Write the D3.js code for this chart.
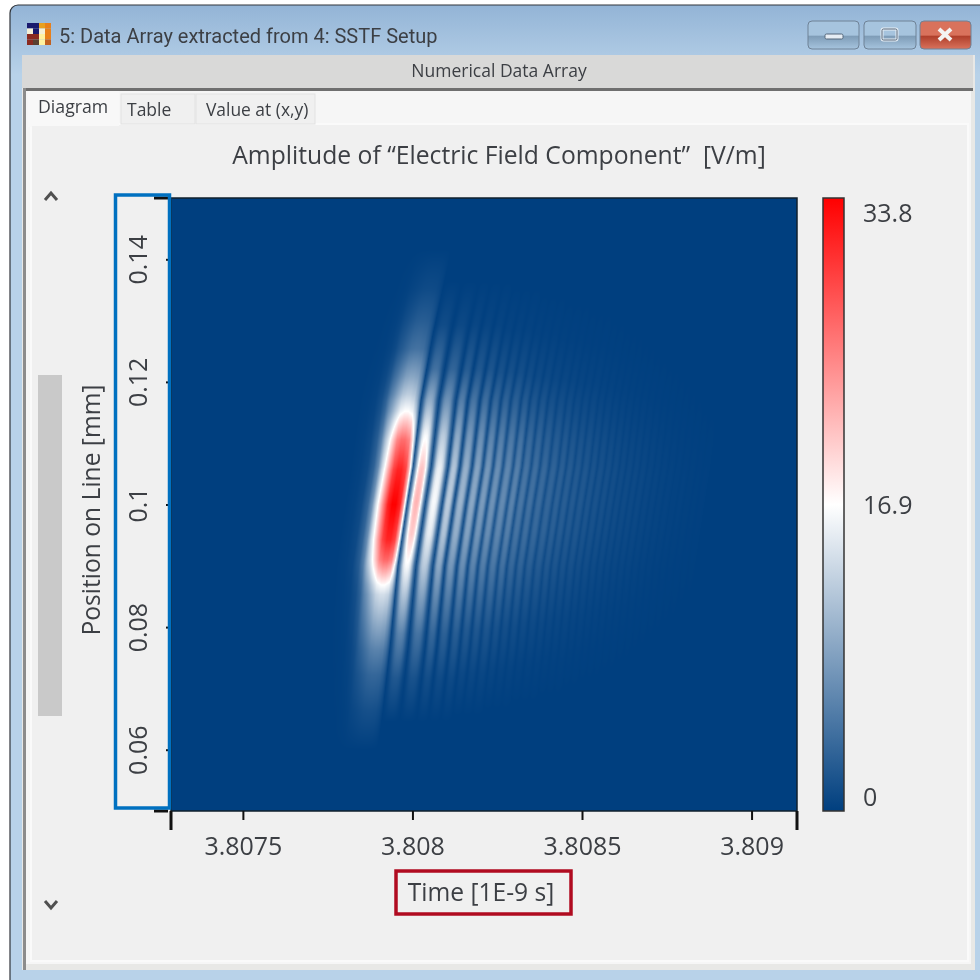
<!DOCTYPE html>
<html>
<head>
<meta charset="utf-8">
<style>
    html, body { margin: 0; padding: 0; background: #fff; }
    svg { display: block; filter: blur(0.5px); }
    text { font-family: "Open Sans", "Noto Sans", sans-serif; fill: #3c3f44; }
</style>
<script src="https://cdn.jsdelivr.net/npm/d3@7/dist/d3.min.js"></script>
</head>
<body>
<script>
    // axis ticks and domains
    var timeTicks = [3.8075, 3.808, 3.8085, 3.809]
    var timeDomain = [3.807288, 3.809134]
    var positionTicks = [0.06, 0.08, 0.1, 0.12, 0.14]
    var positionDomain = [0.05, 0.15]
    var colorTicks = [0, 16.9, 33.8]
    var colorStops = ['#003f7f', '#ffffff', '#ff0000']

    // dark fringes at position 0.1 mm, time in 1E-9 s
    var fringeTimes = [
        3.807801, 3.807984, 3.808037, 3.808087, 3.808122, 3.808158, 3.808190, 3.808220, 3.808249,
        3.808279, 3.808305, 3.808332, 3.808358, 3.808385, 3.808412, 3.808435, 3.808459, 3.808482,
        3.808506, 3.808527, 3.808550, 3.808571, 3.808592, 3.808612, 3.808633, 3.808653, 3.808674,
        3.808695, 3.808715, 3.808736, 3.808757, 3.808777, 3.808798, 3.808819, 3.808839, 3.808860
    ]

    // how far the fringes lean: time shift at each position
    var leanPositions = [0.05, 0.0665, 0.0768, 0.09, 0.1, 0.1062, 0.117, 0.128, 0.14, 0.15]
    var leanShifts = [-0.000112, -0.000071, -0.00005, -0.000027, 0, 0.000018, 0.000041, 0.000077, 0.000124, 0.000171]

    // main lobe: amplitude along its ridge and its shape across
    var mainPositions = [0.06, 0.0665, 0.0722, 0.0763, 0.0804, 0.0853, 0.0869, 0.0885, 0.091, 0.0943, 0.1, 0.1057, 0.1106, 0.1136, 0.1152, 0.118, 0.1209, 0.1254, 0.1303, 0.1352, 0.1417]
    var mainAmplitudes = [0, 1.5, 3.5, 6, 9.5, 14, 17, 21, 27, 31.5, 33.8, 31.5, 26.5, 20.5, 16.9, 12.5, 9, 4.5, 2.5, 1, 0]
    var mainAcrossAt = [0, 0.16, 0.27, 0.37, 0.44, 0.5, 0.55, 0.61, 0.69, 0.76, 0.82, 0.89, 0.94, 0.97, 1]
    var mainAcross = [0, 0.01, 0.03, 0.1, 0.22, 0.42, 0.55, 0.72, 0.93, 1, 1, 0.93, 0.7, 0.45, 0.08]

    // side lobes: peak amplitude and half height (mm) of each one, left to right
    var sideAmplitudes = [
        22, 16.5, 12.5, 10.5, 9.3, 8.2, 7.4, 6.7, 6, 4.9, 4.4, 3.9, 3.4, 3, 2.7, 2.4, 2.2,
        1.9, 1.7, 1.5, 1.3, 1.1, 1, 0.9, 0.8, 0.65, 0.55, 0.45, 0.38, 0.3, 0.25, 0.2, 0.15, 0.12
    ]
    var sideSpans = [
        0.036, 0.036, 0.036, 0.036, 0.036, 0.035, 0.035, 0.035, 0.034, 0.034, 0.034, 0.033, 0.033, 0.033, 0.032, 0.032, 0.032,
        0.031, 0.031, 0.03, 0.03, 0.03, 0.029, 0.029, 0.028, 0.028, 0.027, 0.027, 0.026, 0.026, 0.025, 0.025, 0.024, 0.024
    ]
    var sideCentre = 0.1005
    var sideAlongAt = [-1, -0.8, -0.6, -0.45, -0.3, -0.15, 0, 0.15, 0.3, 0.45, 0.6, 0.8, 1]
    var sideAlong = [0, 0.1, 0.28, 0.5, 0.74, 0.93, 1, 0.95, 0.75, 0.46, 0.2, 0.05, 0]
    var sideAcrossAt = [0, 0.1, 0.2, 0.3, 0.4, 0.5, 0.6, 0.7, 0.8, 0.9, 1]
    var sideAcross = [0.03, 0.24, 0.56, 0.84, 0.97, 1, 0.97, 0.84, 0.56, 0.24, 0.03]

    // how dark the gaps between side lobes stay, as a share of the lobe peak
    var floorTimes = [3.808037, 3.808140, 3.808250, 3.808430, 3.808670, 3.808860]
    var floorShares = [0.06, 0.12, 0.3, 0.45, 0.55, 0.6]

    var iconColors = [
        ['#1a1a6e', '#1a1a6e', '#e8a020', '#e8801a'],
        ['#f4f0d8', '#1a1a6e', '#f4f0d8', '#e8801a'],
        ['#8a2a20', '#8a2a20', '#fff2a0', '#e8801a'],
        ['#8a2a20', '#5a4030', '#fff2a0', '#c06020']
    ]

    var plot = {left: 171, right: 797, top: 198, bottom: 811}
    var bar = {left: 823, right: 844, top: 198, bottom: 811}

    var x = d3.scaleLinear().domain(timeDomain).range([plot.left, plot.right])
    var y = d3.scaleLinear().domain(positionDomain).range([plot.bottom, plot.top])
    var color = d3.scaleLinear().domain(colorTicks).range(colorStops).clamp(true)
    var colorAxisScale = d3.scaleLinear().domain([0, 33.8]).range([797, 213])

    var lean = d3.scaleLinear().domain(leanPositions).range(leanShifts)
    var mainRidge = d3.scaleLinear().domain(mainPositions).range(mainAmplitudes).clamp(true)
    var mainShape = d3.scaleLinear().domain(mainAcrossAt).range(mainAcross).clamp(true)
    var sideRidge = d3.scaleLinear().domain(sideAlongAt).range(sideAlong).clamp(true)
    var sideShape = d3.scaleLinear().domain(sideAcrossAt).range(sideAcross).clamp(true)
    var gapFloor = d3.scaleLinear().domain(floorTimes).range(floorShares).clamp(true)

    var svg = d3.select('body').append('svg')
        .attr('width', 980)
        .attr('height', 980)

    drawWindow()
    drawHeatmap()
    drawAxes()
    drawColorBar()
    drawLabels()

    function amplitudeAt(time, position) {
        var t = time - lean(position)
        var i = d3.bisectRight(fringeTimes, t) - 1
        if (i < 0 || i >= fringeTimes.length - 1) {
            return 0
        }
        var u = (t - fringeTimes[i]) / (fringeTimes[i + 1] - fringeTimes[i])
        if (i === 0) {
            return mainRidge(position) * mainShape(u)
        }
        var k = i - 1
        var f = gapFloor(t)
        return sideAmplitudes[k] * (f + (1 - f) * sideShape(u)) * sideRidge((position - sideCentre) / sideSpans[k])
    }

    function drawHeatmap() {
        var w = plot.right - plot.left
        var h = plot.bottom - plot.top
        var canvas = document.createElement('canvas')
        canvas.width = w
        canvas.height = h
        var ctx = canvas.getContext('2d')
        var image = ctx.createImageData(w, h)
        for (var row = 0; row < h; row++) {
            var position = y.invert(plot.top + row + 0.5)
            for (var col = 0; col < w; col++) {
                var c = d3.rgb(color(amplitudeAt(x.invert(plot.left + col + 0.5), position)))
                var n = (row * w + col) * 4
                image.data[n] = c.r
                image.data[n + 1] = c.g
                image.data[n + 2] = c.b
                image.data[n + 3] = 255
            }
        }
        ctx.putImageData(image, 0, 0)
        svg.append('image')
            .attr('x', plot.left)
            .attr('y', plot.top)
            .attr('width', w)
            .attr('height', h)
            .attr('href', canvas.toDataURL())
    }

    function drawAxes() {
        svg.append('rect')
            .attr('x', plot.left)
            .attr('y', plot.top)
            .attr('width', plot.right - plot.left)
            .attr('height', plot.bottom - plot.top)
            .attr('fill', 'none')
            .attr('stroke', '#10202c')
            .attr('stroke-width', 1.5)

        var xAxis = svg.append('g')
            .attr('transform', 'translate(0,' + plot.bottom + ')')
            .call(d3.axisBottom(x).tickValues(timeTicks).tickSize(9).tickPadding(17).tickFormat(String))
        xAxis.select('.domain').remove()
        xAxis.selectAll('line').attr('stroke', '#111').attr('stroke-width', 2)
        xAxis.selectAll('text').attr('font-size', 25).style('font-family', null)

        var yAxis = svg.append('g')
            .attr('transform', 'translate(' + plot.left + ',0)')
            .call(d3.axisLeft(y).tickValues(positionTicks).tickSize(5).tickFormat(String))
        yAxis.select('.domain').remove()
        yAxis.selectAll('line').attr('stroke', '#111').attr('stroke-width', 2)
        yAxis.selectAll('text')
            .attr('font-size', 25)
            .attr('text-anchor', 'middle')
            .attr('x', 0)
            .attr('dy', 0)
            .attr('transform', 'translate(-24,0) rotate(-90)')

        // long end ticks at the axis corners
        timeDomain.forEach(function (d) {
            svg.append('line')
                .attr('x1', x(d)).attr('x2', x(d))
                .attr('y1', plot.bottom).attr('y2', plot.bottom + 19)
                .attr('stroke', '#111').attr('stroke-width', 3)
        })
        positionDomain.forEach(function (d) {
            svg.append('line')
                .attr('x1', plot.left - 17).attr('x2', plot.left - 3)
                .attr('y1', y(d)).attr('y2', y(d))
                .attr('stroke', '#111').attr('stroke-width', 3)
        })
    }

    function drawColorBar() {
        var defs = svg.append('defs')
        var grad = defs.append('linearGradient')
            .attr('id', 'colorRamp')
            .attr('x1', 0).attr('x2', 0).attr('y1', 1).attr('y2', 0)
        colorTicks.forEach(function (d, i) {
            grad.append('stop')
                .attr('offset', d / 33.8)
                .attr('stop-color', colorStops[i])
        })
        svg.append('rect')
            .attr('x', bar.left)
            .attr('y', bar.top)
            .attr('width', bar.right - bar.left)
            .attr('height', bar.bottom - bar.top)
            .attr('fill', 'url(#colorRamp)')
            .attr('stroke', '#333')
            .attr('stroke-width', 1.5)

        var axis = svg.append('g')
            .attr('transform', 'translate(' + bar.right + ',0)')
            .call(d3.axisRight(colorAxisScale).tickValues(colorTicks).tickSize(0).tickPadding(19).tickFormat(String))
        axis.select('.domain').remove()
        axis.selectAll('text').attr('font-size', 25)
    }

    function drawLabels() {
        svg.append('text')
            .attr('x', 499)
            .attr('y', 164)
            .attr('text-anchor', 'middle')
            .attr('font-size', 24.7)
            .style('white-space', 'pre')
            .text('Amplitude of \u201CElectric Field Component\u201D  [V/m]')

        svg.append('text')
            .attr('x', 481)
            .attr('y', 901)
            .attr('text-anchor', 'middle')
            .attr('font-size', 24.6)
            .text('Time [1E-9 s]')

        svg.append('text')
            .attr('transform', 'translate(100,510) rotate(-90)')
            .attr('text-anchor', 'middle')
            .attr('font-size', 24.6)
            .text('Position on Line [mm]')

        // the two highlight boxes drawn over the screenshot
        svg.append('rect')
            .attr('x', 115.5).attr('y', 195)
            .attr('width', 54).attr('height', 613)
            .attr('fill', 'none')
            .attr('stroke', '#0070c0')
            .attr('stroke-width', 3.5)
        svg.append('rect')
            .attr('x', 396).attr('y', 871)
            .attr('width', 175).attr('height', 43)
            .attr('fill', 'none')
            .attr('stroke', '#b00b20')
            .attr('stroke-width', 3.5)
    }

    function drawWindow() {
        var defs = svg.append('defs')
        var sky = defs.append('linearGradient')
            .attr('id', 'titleSky')
            .attr('x1', 0).attr('x2', 0).attr('y1', 0).attr('y2', 1)
        sky.append('stop').attr('offset', 0).attr('stop-color', '#93b4d6')
        sky.append('stop').attr('offset', 0.07).attr('stop-color', '#b8d2e9')
        sky.append('stop').attr('offset', 1).attr('stop-color', '#b8d2e9')

        svg.append('rect')
            .attr('x', 10).attr('y', 5)
            .attr('width', 985).attr('height', 1000)
            .attr('rx', 8)
            .attr('fill', 'url(#titleSky)')
            .attr('stroke', '#30343a')
            .attr('stroke-width', 1.2)

        // header band and content panel
        svg.append('rect').attr('x', 22).attr('y', 55).attr('width', 953).attr('height', 915).attr('fill', '#e8e8e6')
        svg.append('rect').attr('x', 22).attr('y', 55).attr('width', 951).attr('height', 33).attr('fill', '#d9d9d8')
        svg.append('rect').attr('x', 23).attr('y', 88).attr('width', 950).attr('height', 3).attr('fill', '#6f6f6f')
        svg.append('rect').attr('x', 23).attr('y', 88).attr('width', 3).attr('height', 882).attr('fill', '#8c8c8c')
        svg.append('rect').attr('x', 26).attr('y', 91).attr('width', 945).attr('height', 873).attr('fill', '#f6f6f6')
        svg.append('rect').attr('x', 31).attr('y', 124).attr('width', 937).attr('height', 837).attr('fill', '#f0f0f0')
            .attr('stroke', '#fafafa').attr('stroke-width', 2)

        // tabs
        svg.append('rect').attr('x', 121).attr('y', 94).attr('width', 74).attr('height', 30).attr('fill', '#f0f0f0').attr('stroke', '#e2e2e2')
        svg.append('rect').attr('x', 196).attr('y', 94).attr('width', 119).attr('height', 30).attr('fill', '#f0f0f0').attr('stroke', '#e2e2e2')
        svg.append('rect').attr('x', 28).attr('y', 91).attr('width', 91).attr('height', 36).attr('fill', '#f8f8f8')
        svg.append('rect').attr('x', 32).attr('y', 126).attr('width', 87).attr('height', 4).attr('fill', '#f0f0f0')

        windowText('5: Data Array extracted from 4: SSTF Setup', 59, 43, 20, 'start').style('font-family', 'Roboto')
        windowText('Numerical Data Array', 499, 77, 17.5, 'middle')
        windowText('Diagram', 38, 113, 17.7, 'start')
        windowText('Table', 127, 116, 17.5, 'start')
        windowText('Value at (x,y)', 206, 116, 17.4, 'start')

        // title icon
        iconColors.forEach(function (row, i) {
            row.forEach(function (c, j) {
                svg.append('rect')
                    .attr('x', 27 + j * 6).attr('y', 23 + i * 5.5)
                    .attr('width', 6).attr('height', 5.5)
                    .attr('fill', c)
            })
        })

        // caption buttons
        captionButton(808, 51, '#a6c4de', '#7f9db8')
        captionButton(864, 52, '#a6c4de', '#7f9db8')
        captionButton(920, 51, '#d9725c', '#b0402c')
        svg.append('rect').attr('x', 825).attr('y', 34).attr('width', 18).attr('height', 5).attr('rx', 1.5).attr('fill', '#e6edf4').attr('stroke', '#54677a')
        svg.append('rect').attr('x', 882).attr('y', 29).attr('width', 15).attr('height', 11).attr('rx', 1.5).attr('fill', 'none').attr('stroke', '#e6edf4').attr('stroke-width', 3)
        svg.append('rect').attr('x', 882).attr('y', 29).attr('width', 15).attr('height', 11).attr('rx', 1.5).attr('fill', 'none').attr('stroke', '#54677a')
        svg.append('path').attr('d', 'M939,29L951,40M951,29L939,40').attr('stroke', '#f4f4f4').attr('stroke-width', 4).attr('fill', 'none')

        // scrollbar
        svg.append('rect').attr('x', 38).attr('y', 375).attr('width', 24).attr('height', 341).attr('fill', '#c9c9c9')
        svg.append('path').attr('d', 'M45,200L51,193L57,200').attr('stroke', '#505050').attr('stroke-width', 3).attr('fill', 'none')
        svg.append('path').attr('d', 'M45,901L51,908L57,901').attr('stroke', '#505050').attr('stroke-width', 3).attr('fill', 'none')
    }

    function windowText(str, px, py, size, anchor) {
        return svg.append('text')
            .attr('x', px)
            .attr('y', py)
            .attr('font-size', size)
            .attr('text-anchor', anchor)
            .text(str)
    }

    function captionButton(left, width, top, bottom) {
        var id = 'btn' + left
        var g = svg.select('defs').append('linearGradient')
            .attr('id', id)
            .attr('x1', 0).attr('x2', 0).attr('y1', 0).attr('y2', 1)
        g.append('stop').attr('offset', 0).attr('stop-color', top)
        g.append('stop').attr('offset', 0.5).attr('stop-color', top)
        g.append('stop').attr('offset', 0.55).attr('stop-color', bottom)
        g.append('stop').attr('offset', 1).attr('stop-color', top)
        svg.append('rect')
            .attr('x', left).attr('y', 21)
            .attr('width', width).attr('height', 28)
            .attr('rx', 4)
            .attr('fill', 'url(#' + id + ')')
            .attr('stroke', '#6f8296')
    }
</script>
</body>
</html>
